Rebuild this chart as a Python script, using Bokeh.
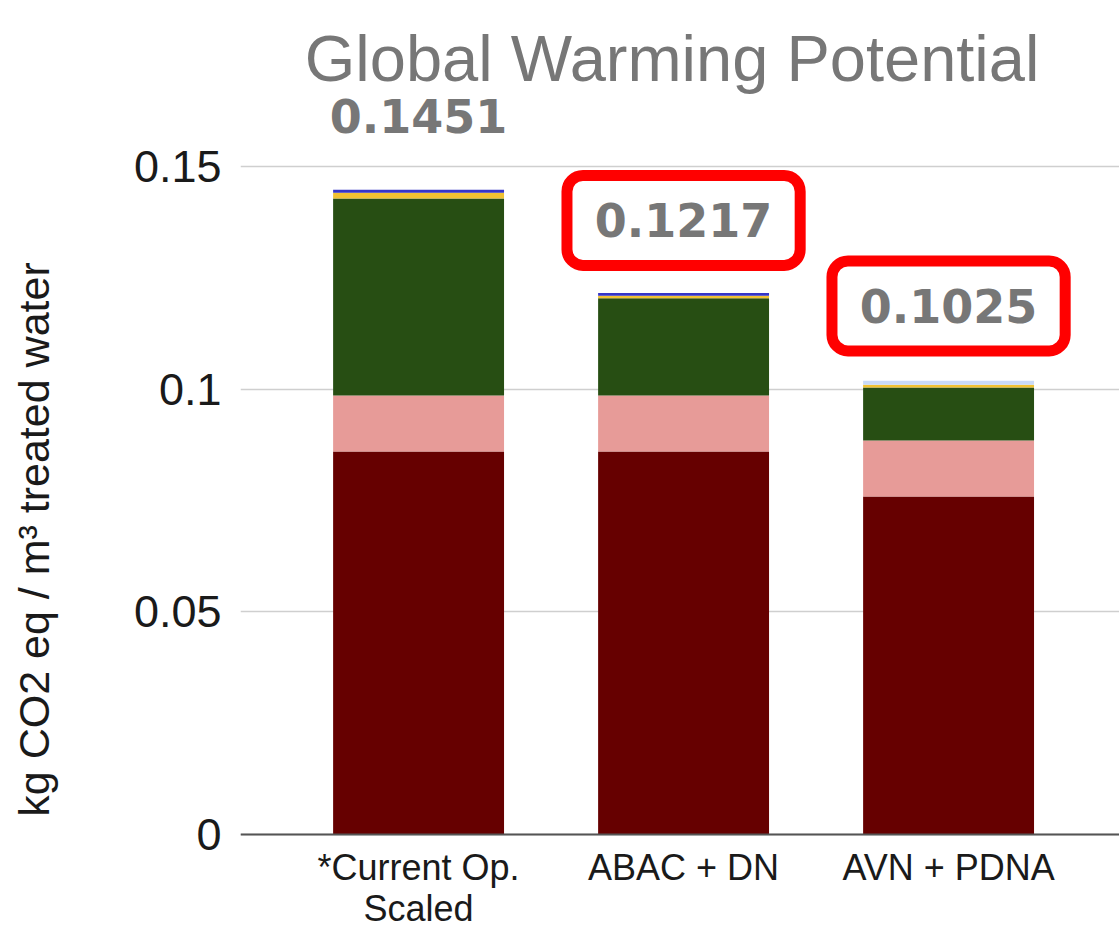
import math
from bokeh.plotting import figure
from bokeh.layouts import row
from bokeh.models import (ColumnDataSource, FixedTicker, BoxAnnotation, Label,
                          Range1d, CustomJSTickFormatter, Span)
from bokeh.core.properties import value
from bokeh.embed import file_html
from bokeh.resources import INLINE

# ---- data ----
categories = ["*Current Op.\nScaled", "ABAC + DN", "AVN + PDNA"]
series_names = ["s1", "s2", "s3", "s4", "s5", "s6"]
s1 = [0.0860, 0.0860, 0.0759]   # dark red
s2 = [0.0126, 0.0126, 0.0126]   # pink
s3 = [0.0442, 0.0218, 0.0119]   # dark green
s4 = [0.0013, 0.0006, 0.0006]   # gold
s5 = [0.0007, 0.0006, 0.0000]   # blue
s6 = [0.0000, 0.0000, 0.0009]   # light blue
totals = [0.1451, 0.1217, 0.1025]
highlighted = [1, 2]
y_ticks = [0, 0.05, 0.1, 0.15]
colors = ["#660000", "#e79b98", "#274e13", "#f1c232", "#3535c8", "#c9daf8"]
title_text = "Global Warming Potential"
y_title = "kg CO2 eq / m³ treated water"

xs = list(range(len(categories)))
source = ColumnDataSource(dict(x=xs, s1=s1, s2=s2, s3=s3, s4=s4, s5=s5, s6=s6))

y_range = Range1d(-0.02156, 0.18729)

p = figure(width=1059, height=930, output_backend="svg", toolbar_location=None,
           x_range=Range1d(-0.672, 2.645), y_range=y_range,
           min_border_left=180, min_border_right=0, min_border_top=0,
           min_border_bottom=0)
p.outline_line_color = None
p.background_fill_color = "white"
p.border_fill_color = "white"

p.vbar_stack(series_names, x="x", width=0.645, color=colors, line_color=None,
             source=source)

# grid
p.xgrid.grid_line_color = None
p.ygrid.grid_line_color = "#cfcfcf"
p.ygrid.grid_line_width = 1.5
p.ygrid.ticker = FixedTicker(ticks=y_ticks)

# baseline (x axis line)
p.add_layout(Span(location=y_ticks[0], dimension="width", line_color="#555555",
                  line_width=2))

# y axis
p.yaxis.ticker = FixedTicker(ticks=y_ticks)
p.yaxis.formatter = CustomJSTickFormatter(code="return String(Number(tick.toFixed(4)));")
p.yaxis.axis_line_color = None
p.yaxis.major_tick_line_color = None
p.yaxis.minor_tick_line_color = None
p.yaxis.major_tick_out = 0
p.yaxis.major_tick_in = 0
p.yaxis.major_label_text_font = "Liberation Sans"
p.yaxis.major_label_text_font_size = "45px"
p.yaxis.major_label_text_color = "#1a1a1a"
p.yaxis.major_label_standoff = 19

# x axis hidden; category labels drawn under the baseline
p.xaxis.visible = False
cat_src = ColumnDataSource(dict(x=xs, y=[-0.0027] * len(xs), text=categories))
p.text(x="x", y="y", text="text", source=cat_src,
       text_font=value("Liberation Sans"), text_font_size="36px",
       text_color="#1a1a1a", text_align="center", text_baseline="top",
       text_line_height=1.02)

# value labels
label_offset = 0.0162
lab_src = ColumnDataSource(dict(x=xs, y=[t + label_offset for t in totals],
                                text=["%.4f" % t for t in totals]))
p.text(x="x", y="y", text="text", source=lab_src, text_font=value("DejaVu Sans"),
       text_font_style="bold", text_font_size="46px", text_color="#777777",
       text_align="center", text_baseline="middle")

# red highlight boxes
half_w = 0.44
half_h = 0.0101
for i in highlighted:
    cy = totals[i] + label_offset
    p.add_layout(BoxAnnotation(left=i - half_w, right=i + half_w,
                               bottom=cy - half_h, top=cy + half_h,
                               fill_alpha=0, line_color="#ff0000", line_alpha=1.0,
                               line_width=11, border_radius=16, level="overlay"))

# chart title
p.add_layout(Label(x=0.9566, y=0.17427, text=title_text,
                   text_font="Liberation Sans", text_font_size="65px",
                   text_color="#777777", text_align="center",
                   text_baseline="alphabetic"))

# narrow panel on the left holding the vertical axis title
side = figure(width=60, height=930, output_backend="svg", toolbar_location=None,
              x_range=Range1d(0, 1), y_range=y_range,
              min_border_left=0, min_border_right=0, min_border_top=0,
              min_border_bottom=0)
side.outline_line_color = None
side.axis.visible = False
side.grid.visible = False
side.background_fill_color = "white"
side.border_fill_color = "white"
side.text(x=[0.55], y=[0.06625], text=[y_title], angle=math.pi / 2,
          text_font=value("Liberation Sans"), text_font_size="43px",
          text_color="#1a1a1a", text_align="center", text_baseline="middle")

layout = row(side, p, spacing=0)
open("out.html", "w").write(file_html(layout, INLINE))
